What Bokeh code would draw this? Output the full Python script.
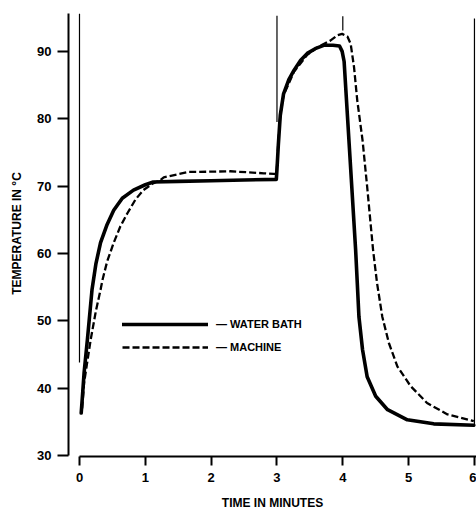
from bokeh.plotting import figure
from bokeh.models import Range1d, Legend, LegendItem, FixedTicker
from bokeh.embed import file_html
from bokeh.resources import INLINE

# ---- data ----
water_t = [0.026, 0.05, 0.07, 0.12, 0.19, 0.25, 0.32, 0.42, 0.52, 0.65, 0.82, 1.0, 1.12,
           1.5, 2.0, 2.5, 2.99, 3.0, 3.02, 3.05, 3.1, 3.18, 3.26, 3.36, 3.46, 3.58, 3.71,
           3.85, 3.95, 3.99, 4.02, 4.1, 4.195, 4.22, 4.245, 4.30, 4.37, 4.50, 4.68, 4.98,
           5.38, 5.99]
water_temp = [36.3, 39.5, 42.3, 47.2, 54.6, 58.5, 61.6, 64.3, 66.4, 68.2, 69.4, 70.2, 70.6,
              70.7, 70.8, 70.9, 71.0, 72.5, 76.0, 80.5, 83.7, 85.8, 87.2, 88.7, 89.7, 90.4, 90.9,
              90.9, 90.8, 90.0, 88.5, 75.7, 60.5, 55.6, 50.6, 45.7, 41.7, 38.8, 36.8, 35.3,
              34.7, 34.5]

machine_t = [0.04, 0.07, 0.17, 0.25, 0.32, 0.35, 0.42, 0.52, 0.62, 0.73, 0.85, 0.97, 1.1,
             1.23, 1.28, 1.66, 1.79, 2.29, 2.8, 2.95, 2.99, 3.0, 3.02, 3.05, 3.1, 3.26, 3.46,
             3.6, 3.71, 3.81, 3.92, 3.99, 4.07, 4.12, 4.17, 4.22, 4.30, 4.37, 4.46, 4.52,
             4.60, 4.70, 4.83, 5.03, 5.28, 5.59, 5.99]
machine_temp = [37.0, 40.8, 47.2, 51.5, 54.6, 56.1, 58.8, 61.6, 64.0, 66.0, 68.0, 69.4, 70.3,
                70.9, 71.3, 72.1, 72.1, 72.2, 71.9, 71.8, 71.8, 73.0, 76.5, 80.5, 83.5, 87.0, 89.5,
                90.5, 91.1, 91.6, 92.4, 92.6, 92.2, 91.1, 87.7, 82.7, 76.8, 69.9, 60.5, 55.6,
                50.6, 46.7, 43.2, 40.3, 37.8, 36.1, 35.1]

marker_t = [0, 3, 4, 6]
marker_top = [95.6, 95.3, 95.2, 94.9]
marker_bottom = [43.8, 79.5, 93.1, 34.3]

x_ticks = [0, 1, 2, 3, 4, 5, 6]
y_ticks = [30, 40, 50, 60, 70, 80, 90]

labels = ["— WATER BATH", "— MACHINE"]
x_title = "TIME IN MINUTES"
y_title = "TEMPERATURE IN °C"

FONT = "Liberation Sans"

p = figure(width=476, height=512, output_backend="svg", toolbar_location=None,
           x_range=Range1d(-0.167, 6.031), y_range=Range1d(29.85, 96.07),
           min_border_left=68, min_border_right=0, min_border_top=10, min_border_bottom=55)
p.outline_line_color = None
p.xgrid.visible = False
p.ygrid.visible = False
p.background_fill_color = "white"

p.segment(x0=marker_t, y0=marker_bottom, x1=marker_t, y1=marker_top,
          line_color="black", line_width=1.2)

rm = p.line(machine_t, machine_temp, line_color="black", line_width=2.3, line_dash="7 3")
rw = p.line(water_t, water_temp, line_color="black", line_width=3.6,
            line_cap="round", line_join="round")

legend = Legend(items=[LegendItem(label=labels[0], renderers=[rw]),
                       LegendItem(label=labels[1], renderers=[rm])],
                location=(54, 103), glyph_width=86, glyph_height=12, label_height=12,
                spacing=11, padding=0, margin=0, label_standoff=8,
                background_fill_alpha=0, border_line_alpha=0,
                label_text_font=FONT, label_text_font_style="bold",
                label_text_font_size="11px", label_text_color="black")
p.add_layout(legend)

for ax in (p.xaxis[0], p.yaxis[0]):
    ax.axis_line_color = "black"
    ax.axis_line_width = 2
    ax.major_tick_line_color = "black"
    ax.major_tick_line_width = 2
    ax.major_tick_in = 0
    ax.minor_tick_line_color = None
    ax.major_label_text_font = FONT
    ax.major_label_text_font_style = "bold"
    ax.major_label_text_font_size = "13px"
    ax.major_label_text_color = "black"
    ax.axis_label_text_font = FONT
    ax.axis_label_text_font_style = "bold"
    ax.axis_label_text_font_size = "12px"
    ax.axis_label_text_color = "black"

p.xaxis.ticker = FixedTicker(ticks=x_ticks)
p.yaxis.ticker = FixedTicker(ticks=y_ticks)
p.xaxis.bounds = (0, 6.1)
p.yaxis.bounds = (30, 95.6)
p.xaxis.major_tick_out = 9
p.yaxis.major_tick_out = 11
p.xaxis.major_label_standoff = 7
p.yaxis.major_label_standoff = 6
p.xaxis.axis_label = x_title
p.yaxis.axis_label = y_title
p.xaxis.axis_label_standoff = 11
p.yaxis.axis_label_standoff = 10

open("out.html", "w").write(file_html(p, INLINE))
